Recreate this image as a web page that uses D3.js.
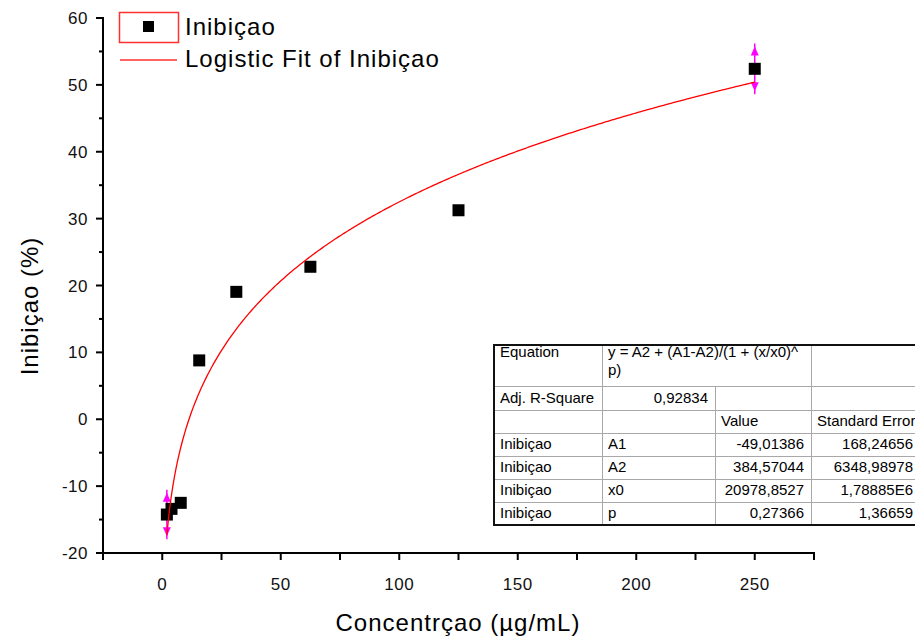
<!DOCTYPE html>
<html>
<head>
<meta charset="utf-8">
<script src="https://cdn.jsdelivr.net/npm/d3@7"></script>
<style>
  html, body { margin: 0; padding: 0; background: #fff; }
  svg { display: block; font-family: Arial, "Liberation Sans", sans-serif; }
</style>
</head>
<body>
<svg id="chart" width="915" height="637"></svg>
<script>
// Measured inhibition (%) versus concentration (µg/mL)
const concentrations = [1.95, 3.9, 7.8, 15.6, 31.25, 62.5, 125, 250];
const inhibition = [-14.25, -13.4, -12.5, 8.8, 19.05, 22.8, 31.25, 52.4];
const inhibitionError = [3.7, 0, 0, 0, 0, 0, 0, 3.8];

// Logistic fit parameters: y = A2 + (A1-A2)/(1 + (x/x0)^p)
const paramNames = ["A1", "A2", "x0", "p"];
const paramValues = [-49.01386, 384.57044, 20978.8527, 0.27366];
const paramLabels = ["-49,01386", "384,57044", "20978,8527", "0,27366"];
const paramErrors = ["168,24656", "6348,98978", "1,78885E6", "1,36659"];
const adjRSquare = "0,92834";

const xTicks = [-25, 0, 25, 50, 75, 100, 125, 150, 175, 200, 225, 250, 275];
const xLabels = [0, 50, 100, 150, 200, 250];
const yMajor = [-20, -10, 0, 10, 20, 30, 40, 50, 60];
const yMinor = [-15, -5, 5, 15, 25, 35, 45, 55];

const svg = d3.select("#chart");

const x = d3.scaleLinear().domain([-25, 275]).range([103, 814]);
const y = d3.scaleLinear().domain([-20, 60]).range([553, 18]);

// ---- fit curve ----
const [A1, A2, x0, p] = paramValues;
const logistic = v => A2 + (A1 - A2) / (1 + Math.pow(v / x0, p));
const fitX = d3.range(0, 401).map(i => concentrations[0] + (concentrations[concentrations.length - 1] - concentrations[0]) * i / 400);
const fitLine = d3.line().x(d => x(d)).y(d => y(logistic(d)));

// ---- axes ----
const axisG = svg.append("g");
// y axis
axisG.append("line").attr("x1", x(-25)).attr("x2", x(-25)).attr("y1", y(60) - 1).attr("y2", y(-20) + 1)
  .attr("stroke", "#000").attr("stroke-width", 2);
axisG.selectAll(".ymaj").data(yMajor).enter().append("line")
  .attr("x1", x(-25) - 7).attr("x2", x(-25)).attr("y1", d => y(d)).attr("y2", d => y(d))
  .attr("stroke", "#000").attr("stroke-width", 2);
axisG.selectAll(".ymin").data(yMinor).enter().append("line")
  .attr("x1", x(-25) - 4).attr("x2", x(-25)).attr("y1", d => y(d)).attr("y2", d => y(d))
  .attr("stroke", "#000").attr("stroke-width", 2);
axisG.selectAll(".ylab").data(yMajor).enter().append("text")
  .attr("x", 88).attr("y", d => y(d)).attr("dy", "0.36em")
  .attr("text-anchor", "end").attr("font-size", 17).attr("fill", "#111")
  .attr("letter-spacing", 0.5)
  .text(d => d);

// x axis
axisG.append("line").attr("x1", x(-25) - 1).attr("x2", x(275) + 1).attr("y1", y(-20)).attr("y2", y(-20))
  .attr("stroke", "#000").attr("stroke-width", 2);
axisG.selectAll(".xt").data(xTicks).enter().append("line")
  .attr("x1", d => x(d)).attr("x2", d => x(d)).attr("y1", y(-20)).attr("y2", y(-20) + 7)
  .attr("stroke", "#000").attr("stroke-width", 2);
axisG.selectAll(".xlab").data(xLabels).enter().append("text")
  .attr("x", d => x(d)).attr("y", 590)
  .attr("text-anchor", "middle").attr("font-size", 17).attr("fill", "#111")
  .attr("letter-spacing", 0.5)
  .text(d => d);

// axis titles
svg.append("text").attr("transform", "translate(38,306) rotate(-90)")
  .attr("text-anchor", "middle").attr("font-size", 24).attr("letter-spacing", 1)
  .text("Inibiçao (%)");
svg.append("text").attr("x", 458).attr("y", 631)
  .attr("text-anchor", "middle").attr("font-size", 24).attr("letter-spacing", 1)
  .text("Concentrçao (µg/mL)");

// ---- error bars ----
const errData = concentrations.map((c, i) => ({ c, v: inhibition[i], e: inhibitionError[i] })).filter(d => d.e > 0);
const errG = svg.append("g").attr("fill", "#ff00ff").attr("stroke", "#ff00ff");
errData.forEach(d => {
  const cx = x(d.c), yt = y(d.v + d.e), yb = y(d.v - d.e);
  errG.append("line").attr("x1", cx).attr("x2", cx).attr("y1", yt).attr("y2", yb).attr("stroke-width", 1.5);
  errG.append("path").attr("stroke", "none")
    .attr("d", `M${cx},${yt + 3} L${cx - 4},${yt + 12} L${cx + 4},${yt + 12} Z`);
  errG.append("path").attr("stroke", "none")
    .attr("d", `M${cx},${yb - 3} L${cx - 4},${yb - 12} L${cx + 4},${yb - 12} Z`);
});

// ---- data squares ----
svg.append("g").selectAll("rect").data(concentrations).enter().append("rect")
  .attr("x", (d) => x(d) - 6).attr("y", (d, i) => y(inhibition[i]) - 6)
  .attr("width", 12).attr("height", 12).attr("fill", "#000");

// fit line on top
svg.append("path").datum(fitX).attr("d", fitLine)
  .attr("fill", "none").attr("stroke", "#ff0000").attr("stroke-width", 1.3);

// ---- legend ----
const leg = svg.append("g");
leg.append("rect").attr("x", 119.5).attr("y", 12.5).attr("width", 59).attr("height", 30)
  .attr("fill", "none").attr("stroke", "#ff3030").attr("stroke-width", 1.5);
leg.append("rect").attr("x", 143).attr("y", 21).attr("width", 11).attr("height", 11).attr("fill", "#000");
leg.append("text").attr("x", 185).attr("y", 35).attr("font-size", 24).attr("letter-spacing", 1).text("Inibiçao");
leg.append("line").attr("x1", 120).attr("x2", 177).attr("y1", 60).attr("y2", 60)
  .attr("stroke", "#ff3030").attr("stroke-width", 1.5);
leg.append("text").attr("x", 185).attr("y", 67).attr("font-size", 24).attr("letter-spacing", 1).text("Logistic Fit of Inibiçao");

// ---- parameter table ----
const colX = [494, 602, 715, 811, 925];
const rowY = [345, 386, 410, 433, 456, 479, 502, 525];
const tbl = svg.append("g").attr("font-size", 15).attr("fill", "#000");
tbl.append("rect").attr("x", colX[0]).attr("y", rowY[0]).attr("width", colX[4] - colX[0]).attr("height", rowY[7] - rowY[0])
  .attr("fill", "#fff").attr("stroke", "none");
const grid = tbl.append("g").attr("stroke", "#a8a8a8").attr("stroke-width", 1);
// horizontal inner lines
rowY.slice(1, 7).forEach(ry => {
  grid.append("line").attr("x1", colX[0]).attr("x2", colX[4]).attr("y1", ry + 0.5).attr("y2", ry + 0.5);
});
// vertical inner lines
[1, 3].forEach(ci => grid.append("line").attr("x1", colX[ci] + 0.5).attr("x2", colX[ci] + 0.5).attr("y1", rowY[0]).attr("y2", rowY[7]));
grid.append("line").attr("x1", colX[2] + 0.5).attr("x2", colX[2] + 0.5).attr("y1", rowY[1]).attr("y2", rowY[7]);
// outer border
tbl.append("rect").attr("x", colX[0]).attr("y", rowY[0]).attr("width", colX[4] - colX[0]).attr("height", rowY[7] - rowY[0])
  .attr("fill", "none").attr("stroke", "#111").attr("stroke-width", 2);

const leftText = (col, baseline, s) => tbl.append("text").attr("x", colX[col] + 6).attr("y", baseline).text(s);
const rightText = (col, baseline, s) => tbl.append("text").attr("x", colX[col + 1] - 7).attr("y", baseline).attr("text-anchor", "end").text(s);

leftText(0, 357, "Equation");
leftText(1, 357, "y = A2 + (A1-A2)/(1 + (x/x0)^");
leftText(1, 375, "p)");
leftText(0, 403, "Adj. R-Square");
rightText(1, 403, adjRSquare);
leftText(2, 426, "Value");
leftText(3, 426, "Standard Error");
paramNames.forEach((n, i) => {
  const b = rowY[3] + 16 + i * 23;
  leftText(0, b, "Inibiçao");
  leftText(1, b, n);
  rightText(2, b, paramLabels[i]);
  tbl.append("text").attr("x", 913).attr("y", b).attr("text-anchor", "end").text(paramErrors[i]);
});
</script>
</body>
</html>
